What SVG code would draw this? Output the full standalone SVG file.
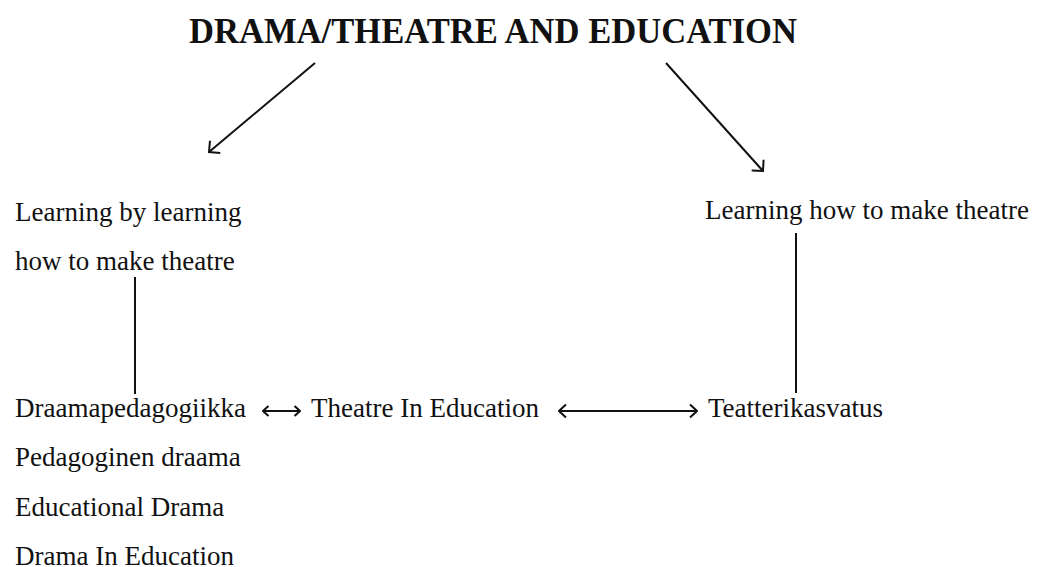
<svg xmlns="http://www.w3.org/2000/svg" width="1037" height="567" viewBox="0 0 1037 567">
<style>
  .t { font-family: "Liberation Serif", "Times New Roman", serif; font-size: 27px; fill: #111; }
  .title { font-family: "Liberation Serif", "Times New Roman", serif; font-size: 35px; font-weight: bold; fill: #111; }
  .ln { stroke: #111; stroke-width: 2; fill: none; }
</style>
<defs>
  <marker id="diag" viewBox="0 0 12 20" refX="10" refY="10" markerWidth="12" markerHeight="20" markerUnits="userSpaceOnUse" orient="auto">
    <path d="M2,2 L10,10 L2,18" fill="none" stroke="#111" stroke-width="2"/>
  </marker>
  <marker id="dbl" viewBox="0 0 10 16" refX="9" refY="8" markerWidth="10" markerHeight="16" markerUnits="userSpaceOnUse" orient="auto-start-reverse">
    <path d="M2,1.5 L9,8 L2,14.5" fill="none" stroke="#111" stroke-width="2"/>
  </marker>
  <marker id="dbls" viewBox="0 0 8 14" refX="7" refY="7" markerWidth="8" markerHeight="14" markerUnits="userSpaceOnUse" orient="auto-start-reverse">
    <path d="M1.5,2 L7,7 L1.5,12" fill="none" stroke="#111" stroke-width="2"/>
  </marker>
</defs>

<g id="title">
  <text class="title" x="189" y="43" textLength="608" lengthAdjust="spacingAndGlyphs">DRAMA/THEATRE AND EDUCATION</text>
</g>

<g id="left-branch">
  <text class="t" x="15" y="221">Learning by learning</text>
  <text class="t" x="15" y="270">how to make theatre</text>
</g>

<g id="right-branch">
  <text class="t" x="705" y="219">Learning how to make theatre</text>
</g>

<g id="draamapedagogiikka">
  <text class="t" x="15" y="417">Draamapedagogiikka</text>
  <text class="t" x="15" y="466">Pedagoginen draama</text>
  <text class="t" x="15" y="516">Educational Drama</text>
  <text class="t" x="15" y="565">Drama In Education</text>
</g>

<g id="tie">
  <text class="t" x="311" y="417">Theatre In Education</text>
</g>

<g id="teatterikasvatus">
  <text class="t" x="708" y="417">Teatterikasvatus</text>
</g>

<g id="connectors">
  <line class="ln" x1="315" y1="63" x2="209" y2="152" marker-end="url(#diag)"/>
  <line class="ln" x1="666" y1="63" x2="763" y2="171" marker-end="url(#diag)"/>
  <line class="ln" x1="135" y1="277" x2="135" y2="394"/>
  <line class="ln" x1="796" y1="233" x2="796" y2="393"/>
  <line class="ln" x1="263" y1="411" x2="300" y2="411" marker-start="url(#dbls)" marker-end="url(#dbls)"/>
  <line class="ln" x1="559" y1="411" x2="697" y2="411" marker-start="url(#dbl)" marker-end="url(#dbl)"/>
</g>
</svg>
